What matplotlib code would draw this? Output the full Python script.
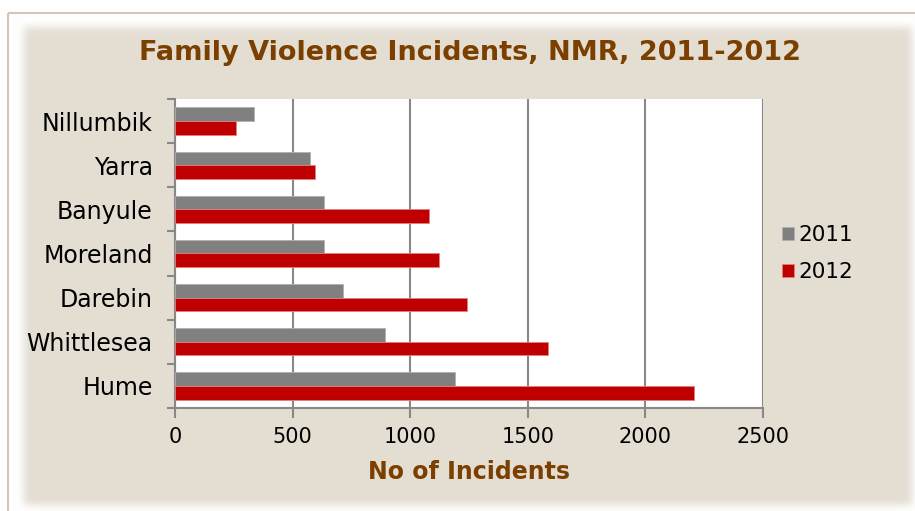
import numpy as np
import matplotlib
matplotlib.use('Agg')
from matplotlib import pyplot as plt
from matplotlib.patches import Rectangle

councils = ['Hume', 'Whittlesea', 'Darebin', 'Moreland', 'Banyule', 'Yarra', 'Nillumbik']
incidents_2011 = [1189, 891, 716, 632, 632, 575, 336]
incidents_2012 = [2207, 1585, 1243, 1121, 1080, 595, 259]
series_names = ['2011', '2012']
x_ticks = [0, 500, 1000, 1500, 2000, 2500]

W, H = 915, 511
beige = np.array([227, 221, 210]) / 255.0
brown = '#7B3F00'

fig = plt.figure(figsize=(W / 100, H / 100), dpi=100)
fig.patch.set_facecolor('white')

# soft-edged beige panel behind the chart
bg = fig.add_axes([0, 0, 1, 1])
bg.set_xlim(0, W)
bg.set_ylim(H, 0)
bg.axis('off')
mask = np.zeros((H, W))
mask[27:505, 24:912] = 1.0
k = np.arange(-12, 13)
g = np.exp(-k ** 2 / (2 * 4.0 ** 2))
g /= g.sum()
mask = np.apply_along_axis(lambda r: np.convolve(r, g, mode='same'), 1, mask)
mask = np.apply_along_axis(lambda c: np.convolve(c, g, mode='same'), 0, mask)
img = np.ones((H, W, 3)) * (1 - mask[..., None]) + beige * mask[..., None]
bg.imshow(img, extent=(0, W, H, 0), interpolation='bilinear')
bg.add_patch(Rectangle((8, 13), W, H, fill=False, edgecolor='#D3C6B2', linewidth=1.5))

ax = fig.add_axes([175 / W, 1 - 408 / H, (763 - 175) / W, (408 - 99) / H])
ax.set_facecolor('white')

y = np.arange(len(councils))
h = 0.31
ax.barh(y + h / 2, incidents_2011, height=h, color='#808080', edgecolor='#B0B0B0',
        linewidth=0.6, label=series_names[0], zorder=3)
ax.barh(y - h / 2, incidents_2012, height=h, color='#C00000', edgecolor='#E08080',
        linewidth=0.6, label=series_names[1], zorder=3)

ax.set_xlim(0, 2500)
ax.set_ylim(-0.5, len(councils) - 0.5)
ax.set_xticks(x_ticks)
ax.set_xticklabels([str(t) for t in x_ticks], fontsize=15)
ax.set_yticks(y)
ax.set_yticklabels(councils, fontsize=17)
ax.set_yticks(np.arange(len(councils) + 1) - 0.5, minor=True)
ax.tick_params(axis='y', which='major', length=0, pad=16)
ax.tick_params(axis='y', which='minor', length=6, color='#888888', width=1.5)
ax.tick_params(axis='x', length=7, color='#888888', width=1.5, pad=7)
ax.xaxis.grid(True, color='#888888', linewidth=1.5, zorder=0)
ax.set_axisbelow(True)
for side in ['top', 'right']:
    ax.spines[side].set_visible(False)
for side in ['left', 'bottom']:
    ax.spines[side].set_color('#888888')
    ax.spines[side].set_linewidth(1.5)

ax.set_xlabel('No of Incidents', fontsize=17, fontweight='bold', color=brown, labelpad=9)
fig.text(470 / W, 1 - 53 / H, 'Family Violence Incidents, NMR, 2011-2012', ha='center',
         va='center', fontsize=19.5, fontweight='bold', color=brown)

leg = ax.legend(loc='center left', bbox_to_anchor=(1.0, 0.5), frameon=False, fontsize=15.5,
                handlelength=0.55, handleheight=0.55, handletextpad=0.2, labelspacing=0.8)

fig.savefig('out.png', dpi=100)
